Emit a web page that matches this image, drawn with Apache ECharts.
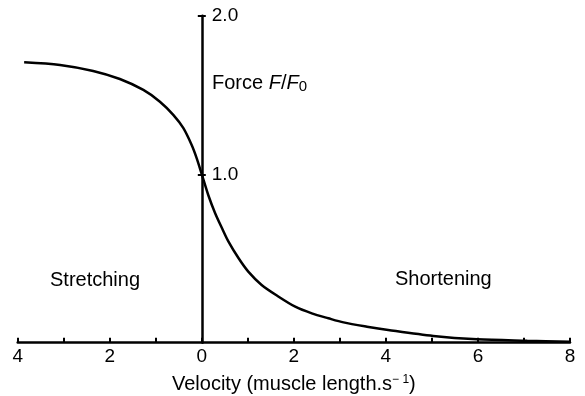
<!DOCTYPE html>
<html><head><meta charset="utf-8">
<script src="https://cdn.jsdelivr.net/npm/echarts@6/dist/echarts.min.js"></script>
<style>html,body{margin:0;padding:0;background:#fff}#c{width:585px;height:396px}</style>
</head><body><div id="c"></div>
<script>
// Velocity (negative = stretching, positive = shortening), muscle length per second
const velocity = [-3.86,-3.08,-2.36,-1.78,-1.27,-0.91,-0.62,-0.40,-0.22,-0.11,0,0.14,0.29,0.44,0.58,0.80,1.01,1.30,1.67,2.03,2.39,2.75,3.08,3.59,4.05,5.03,5.98,7.07,8.0];
// Force F/F0
const force = [1.707,1.690,1.652,1.601,1.532,1.458,1.375,1.291,1.185,1.101,1.0,0.870,0.755,0.660,0.576,0.471,0.387,0.303,0.229,0.166,0.124,0.093,0.067,0.040,0.019,-0.019,-0.040,-0.049,-0.055];
const yTickValues = [1, 2];
const yTickLabels = ['1.0', '2.0'];
const xLabelValues = [-4,-2,0,2,4,6,8];
const xMin = -4, xMax = 8, yMin = -0.061, yMax = 2.0;

const FONT = 'Liberation Sans, Arial, sans-serif';
const W = 585, L = 17.7, R = 15;
const zeroX = L + (0 - xMin) / (xMax - xMin) * (W - L - R);
const base = {top: 15.7, bottom: 53.3, containLabel: false, outerBoundsMode: 'none'};
const chart = echarts.init(document.getElementById('c'));
chart.setOption({
  animation: false,
  backgroundColor: '#fff',
  grid: [
    Object.assign({left: L, right: R}, base),
    Object.assign({left: zeroX, right: R}, base),
    Object.assign({left: zeroX, right: R}, base)
  ],
  xAxis: [{
    type: 'value', min: xMin, max: xMax, interval: 1, gridIndex: 0,
    axisLine: {onZero: false, lineStyle: {color: '#000', width: 2.5}},
    axisTick: {inside: true, length: 5, lineStyle: {color: '#000', width: 2}},
    splitLine: {show: false},
    axisLabel: {
      color: '#000', fontFamily: FONT, fontSize: 19, margin: 5,
      formatter: v => xLabelValues.includes(v) ? String(Math.abs(v)) : ''
    },
    name: 'Velocity (muscle length.s{sup|\u2212 1})',
    nameLocation: 'middle', nameGap: 31,
    nameTextStyle: {
      color: '#000', fontFamily: FONT, fontSize: 20,
      rich: {sup: {fontSize: 12, verticalAlign: 'top', padding: [0,0,9,0], fontFamily: FONT, color: '#000'}}
    }
  }, {
    type: 'value', min: 0, max: xMax, gridIndex: 1, show: false, axisLine: {onZero: false}, splitLine: {show: false}
  }, {
    type: 'value', min: 0, max: xMax, gridIndex: 2, show: false, axisLine: {onZero: false}, splitLine: {show: false}
  }],
  yAxis: [{
    type: 'value', min: yMin, max: yMax, gridIndex: 0, show: false, splitLine: {show: false}
  }, {
    type: 'value', min: yMin, max: yMax, position: 'left', gridIndex: 1,
    axisLine: {onZero: false, lineStyle: {color: '#000', width: 2.5}},
    axisTick: {show: true, inside: false, length: 4, customValues: yTickValues, lineStyle: {color: '#000', width: 2}},
    axisLabel: {
      inside: true, color: '#000', fontFamily: FONT, fontSize: 19, margin: 10,
      customValues: yTickValues,
      formatter: v => yTickLabels[yTickValues.indexOf(Math.round(v))] || ''
    },
    splitLine: {show: false}
  }, {
    type: 'value', min: yMin, max: yMax, position: 'left', gridIndex: 2,
    axisLine: {show: false, onZero: false},
    axisTick: {show: true, inside: true, length: 4, customValues: yTickValues, lineStyle: {color: '#000', width: 2}},
    axisLabel: {show: false},
    splitLine: {show: false}
  }],
  graphic: [
    {type: 'text', left: 212, top: 73, style: {
      text: 'Force {it|F}/{it|F}{sub|0}', fill: '#000', font: '20px ' + FONT,
      rich: {it: {fontStyle: 'italic', fontSize: 20, fontFamily: FONT, fill: '#000'},
             sub: {fontSize: 15, fontFamily: FONT, verticalAlign: 'bottom', padding: [8,0,0,0], fill: '#000'}}
    }},
    {type: 'text', left: 50, top: 270, style: {text: 'Stretching', fill: '#000', font: '20px ' + FONT}},
    {type: 'text', left: 395, top: 269, style: {text: 'Shortening', fill: '#000', font: '20px ' + FONT}}
  ],
  series: [{
    type: 'line', xAxisIndex: 0, yAxisIndex: 0,
    data: velocity.map((v, i) => [v, force[i]]),
    smooth: 0.3, showSymbol: false, symbol: 'none',
    lineStyle: {color: '#000', width: 2.5}, z: 5
  }]
});
</script></body></html>
